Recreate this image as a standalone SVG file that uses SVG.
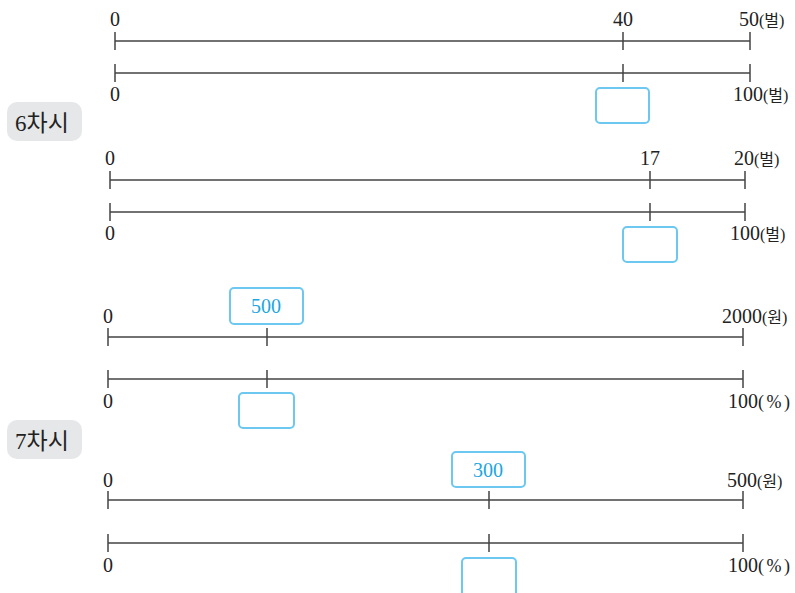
<svg xmlns="http://www.w3.org/2000/svg" width="795" height="593" viewBox="0 0 795 593">
  <style>
    .axis { stroke: #444; stroke-width: 1.5; fill: none; }
    .num { font-family: "Liberation Serif", serif; font-size: 20px; fill: #222; }
    .unit { font-family: "Liberation Serif", "Noto Sans CJK KR", serif; font-size: 16px; fill: #222; }
    .pct { font-family: "Liberation Serif", serif; font-size: 18px; letter-spacing: 2.5px; fill: #222; }
    .ans { fill: #fff; stroke: #6cc8f0; stroke-width: 2; }
    .ansText { font-family: "Liberation Serif", serif; font-size: 20px; fill: #1ba6e2; text-anchor: middle; }
    .badge { fill: #e6e7e8; }
    .badgeText { font-family: "Liberation Serif", "Noto Sans CJK KR", serif; font-size: 23px; fill: #222; }
    .mid { text-anchor: middle; }
  </style>

  <!-- lesson badges -->
  <g id="badge6">
    <rect class="badge" x="7" y="102" width="75" height="39" rx="10"/>
    <text class="badgeText" x="15" y="131">6차시</text>
  </g>
  <g id="badge7">
    <rect class="badge" x="7" y="420" width="75" height="39" rx="10"/>
    <text class="badgeText" x="15" y="449">7차시</text>
  </g>

  <!-- number lines and tick marks -->
  <g id="connectors">
    <!-- set 1 -->
    <path class="axis" d="M115 41H750 M115 32V50 M623 32V50 M750 32V50"/>
    <path class="axis" d="M115 73H750 M115 64V82 M623 64V82 M750 64V82"/>
    <!-- set 2 -->
    <path class="axis" d="M110 180H745 M110 171V189 M650 171V189 M745 171V189"/>
    <path class="axis" d="M110 212H745 M110 203V221 M650 203V221 M745 203V221"/>
    <!-- set 3 -->
    <path class="axis" d="M108 337H743 M108 328V346 M267 328V346 M743 328V346"/>
    <path class="axis" d="M108 379H743 M108 370V388 M267 370V388 M743 370V388"/>
    <!-- set 4 -->
    <path class="axis" d="M108 500H743 M108 491V509 M489 491V509 M743 491V509"/>
    <path class="axis" d="M108 543H743 M108 534V552 M489 534V552 M743 534V552"/>
  </g>

  <!-- set 1 labels -->
  <g id="set1">
    <text class="num mid" x="115" y="26">0</text>
    <text class="num mid" x="623" y="26">40</text>
    <text class="num" x="739" y="26">50<tspan class="unit">(벌)</tspan></text>
    <text class="num mid" x="115" y="101">0</text>
    <text class="num" x="733" y="101">100<tspan class="unit">(벌)</tspan></text>
    <rect class="ans" x="596" y="88" width="53" height="35" rx="4"/>
  </g>

  <!-- set 2 labels -->
  <g id="set2">
    <text class="num mid" x="110" y="165">0</text>
    <text class="num mid" x="650" y="165">17</text>
    <text class="num" x="734" y="165">20<tspan class="unit">(벌)</tspan></text>
    <text class="num mid" x="110" y="240">0</text>
    <text class="num" x="730" y="240">100<tspan class="unit">(벌)</tspan></text>
    <rect class="ans" x="623" y="227" width="54" height="35" rx="4"/>
  </g>

  <!-- set 3 labels -->
  <g id="set3">
    <text class="num mid" x="108" y="323">0</text>
    <rect class="ans" x="230" y="288" width="73" height="36" rx="4"/>
    <text class="ansText" x="266" y="313">500</text>
    <text class="num" x="722" y="323">2000<tspan class="unit">(원)</tspan></text>
    <text class="num mid" x="108" y="408">0</text>
    <rect class="ans" x="239" y="393" width="55" height="35" rx="4"/>
    <text class="num" x="728" y="408">100<tspan class="pct">(%)</tspan></text>
  </g>

  <!-- set 4 labels -->
  <g id="set4">
    <text class="num mid" x="108" y="487">0</text>
    <rect class="ans" x="452" y="452" width="73" height="35" rx="4"/>
    <text class="ansText" x="488" y="477">300</text>
    <text class="num" x="727" y="487">500<tspan class="unit">(원)</tspan></text>
    <text class="num mid" x="108" y="572">0</text>
    <rect class="ans" x="462" y="558" width="54" height="40" rx="4"/>
    <text class="num" x="728" y="572">100<tspan class="pct">(%)</tspan></text>
  </g>
</svg>
